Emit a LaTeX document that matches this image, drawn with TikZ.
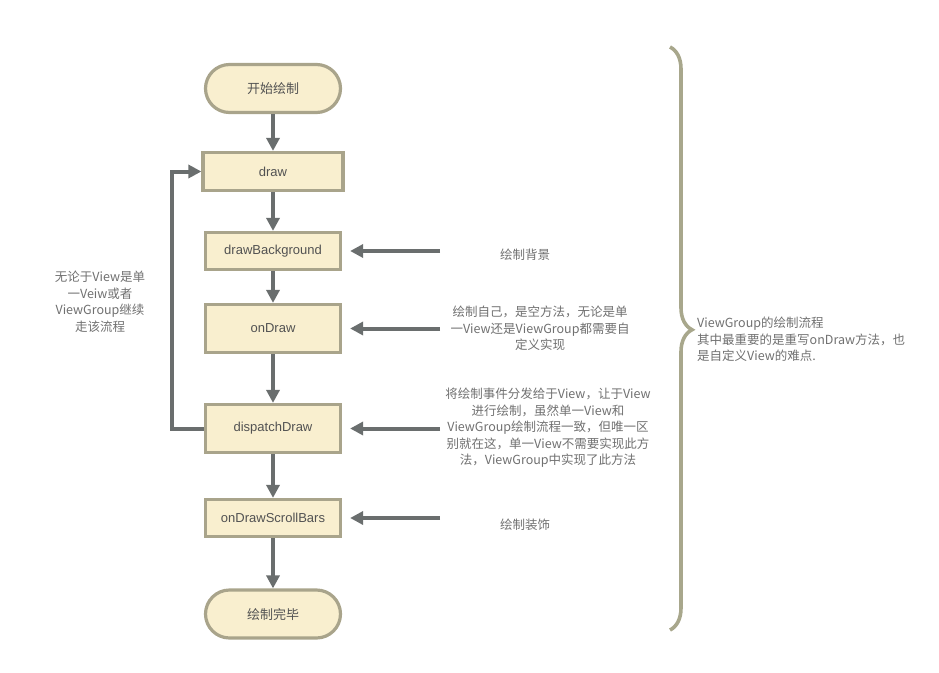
\documentclass[tikz,border=0pt]{standalone}
\usepackage{fontspec}
\setmainfont{Liberation Sans}
\newfontfamily\cjk{Noto Sans CJK SC}
\usetikzlibrary{arrows.meta,positioning,decorations.pathreplacing}
\definecolor{BoxFill}{HTML}{F9EFCF}
\definecolor{BoxLine}{HTML}{A9A48B}
\definecolor{FlowGrey}{HTML}{6A6E6E}
\definecolor{NoteGrey}{HTML}{707070}
\definecolor{BraceKhaki}{HTML}{A8A78C}
\tikzset{
  stepbox/.style={draw=BoxLine,fill=BoxFill,line width=3.2pt,minimum width=135pt,
    minimum height=37pt,inner sep=0pt,font=\fontsize{13}{15}\selectfont,text=black!68},
  endbox/.style={stepbox,rounded corners=24pt,minimum height=48pt,font=\cjk\fontsize{13}{15}\selectfont},
  flow/.style={-{Triangle[length=13pt,width=13pt]},draw=FlowGrey,line width=4pt},
  note/.style={font=\cjk\fontsize{12.5}{16.5}\selectfont,text=NoteGrey,align=center,inner sep=0pt},
  bracebar/.style={draw=BraceKhaki,line width=3.6pt,decorate,
    decoration={brace,amplitude=22pt,aspect=.485}}
}
\begin{document}
\begin{tikzpicture}[x=1pt,y=-1pt]
  \useasboundingbox (0,0) rectangle (939,672);
  % flow boxes
  \node[endbox] (start) at (273,88.5) {开始绘制};
  \node[stepbox,minimum width=140pt,minimum height=38pt] (draw) at (273,171.5) {draw};
  \node[stepbox] (bg) at (273,251) {drawBackground};
  \node[stepbox,minimum height=48pt] (ondraw) at (273,328.5) {onDraw};
  \node[stepbox,minimum height=48pt] (dispatch) at (273,428.5) {dispatchDraw};
  \node[stepbox] (scroll) at (273,518) {onDrawScrollBars};
  \node[endbox] (finish) at (273,614) {绘制完毕};
  \draw[flow] (start) -- (draw);
  \draw[flow] (draw) -- (bg);
  \draw[flow] (bg) -- (ondraw);
  \draw[flow] (ondraw) -- (dispatch);
  \draw[flow] (dispatch) -- (scroll);
  \draw[flow] (scroll) -- (finish);
  % loop back
  \draw[flow] (dispatch.west) -- ++(-32,0) |- (draw.west);
  \node[note] (loopnote) at (100,302) {无论于View是单\\一Veiw或者\\ViewGroup继续\\走该流程};
  % notes on the right
  \coordinate (bgsrc) at (440,251);
  \coordinate (ondrawsrc) at (440,328.5);
  \coordinate (dispatchsrc) at (440,428.5);
  \coordinate (scrollsrc) at (440,518);
  \foreach \n in {bg,ondraw,dispatch,scroll}{
    \draw[flow,shorten >=8pt] (\n src) -- (\n src -| \n.east);
  }
  \node[note] (bgnote) at (525,255) {绘制背景};
  \node[note] (ondrawnote) at (540,328.5) {绘制自己，是空方法，无论是单\\一View还是ViewGroup都需要自\\定义实现};
  \node[note] (dispatchnote) at (548,428) {将绘制事件分发给于View，让于View\\进行绘制，虽然单一View和\\ViewGroup绘制流程一致，但唯一区\\别就在这，单一View不需要实现此方\\法，ViewGroup中实现了此方法};
  \node[note] (scrollnote) at (525,525) {绘制装饰};
  % brace
  \coordinate (bracetop) at (670,47);
  \coordinate (bracebot) at (670,630);
  \draw[bracebar] (bracetop) -- (bracebot);
  \node[note,align=left,anchor=west] (bracenote) at (697,339.5)
    {ViewGroup的绘制流程\\其中最重要的是重写onDraw方法，也\\是自定义View的难点.};
\end{tikzpicture}
\end{document}
